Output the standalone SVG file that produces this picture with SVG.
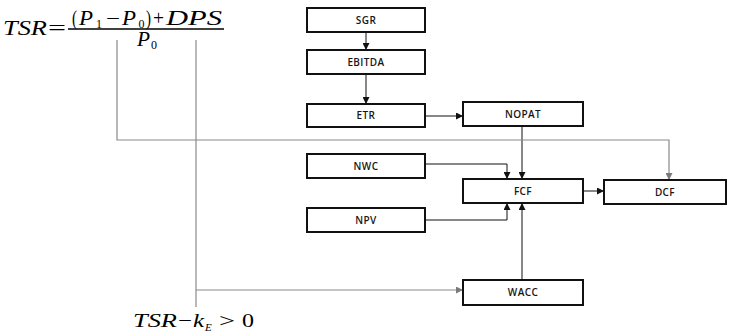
<svg xmlns="http://www.w3.org/2000/svg" width="729" height="335" viewBox="0 0 729 335">
  <style>
    .box { fill: #fff; stroke: #111; stroke-width: 2; }
    .lbl { font-family: "Open Sans", "Liberation Sans", sans-serif; font-size: 10px; font-weight: 600; letter-spacing: 0.4px; fill: #161616; text-anchor: middle; }
    .math { font-family: "Liberation Serif", "DejaVu Serif", serif; font-style: italic; fill: #000; }
    .rm { font-style: normal; }
    .wire { fill: none; stroke: #111; stroke-width: 1; }
    .grey { fill: none; stroke: #8a8a8a; stroke-width: 1.2; }
  </style>
  <defs>
    <marker id="ah" viewBox="0 0 10 10" refX="10" refY="5" markerWidth="7" markerHeight="7" markerUnits="userSpaceOnUse" orient="auto">
      <path d="M0,0 L10,5 L0,10 Z" fill="#111"/>
    </marker>
    <marker id="ahg" viewBox="0 0 10 10" refX="10" refY="5" markerWidth="7" markerHeight="7" markerUnits="userSpaceOnUse" orient="auto">
      <path d="M0,0 L10,5 L0,10 Z" fill="#7a7a7a"/>
    </marker>
  </defs>

  <rect width="729" height="335" fill="#fff"/>

  <!-- TSR = ((P1 - P0) + DPS) / P0, glyphs placed one by one -->
  <g id="tsr-formula" class="math" font-size="20">
    <text x="3" y="35" textLength="44" lengthAdjust="spacingAndGlyphs">TSR</text>
    <text class="rm" x="48" y="35" textLength="18" lengthAdjust="spacingAndGlyphs">=</text>
    <text class="rm" x="72" y="25" textLength="5" lengthAdjust="spacingAndGlyphs">(</text>
    <text x="79" y="25" textLength="14" lengthAdjust="spacingAndGlyphs">P</text>
    <text class="rm" x="96" y="28" font-size="12">1</text>
    <text class="rm" x="106" y="25" textLength="14" lengthAdjust="spacingAndGlyphs">−</text>
    <text x="122" y="25" textLength="14" lengthAdjust="spacingAndGlyphs">P</text>
    <text class="rm" x="138.5" y="28" font-size="12">0</text>
    <text class="rm" x="146" y="25" textLength="5" lengthAdjust="spacingAndGlyphs">)</text>
    <text class="rm" x="153" y="25" textLength="11" lengthAdjust="spacingAndGlyphs">+</text>
    <text x="166" y="25" textLength="56" lengthAdjust="spacingAndGlyphs">DPS</text>
    <line x1="68" y1="29" x2="224" y2="29" stroke="#000" stroke-width="1.3"/>
    <text x="137" y="46" textLength="13" lengthAdjust="spacingAndGlyphs">P</text>
    <text class="rm" x="151" y="49" font-size="12">0</text>
  </g>

  <!-- TSR - kE > 0 -->
  <g id="excess-formula" class="math" font-size="19">
    <text x="133" y="327" textLength="44" lengthAdjust="spacingAndGlyphs">TSR</text>
    <text class="rm" x="178" y="327" textLength="14" lengthAdjust="spacingAndGlyphs">−</text>
    <text x="193" y="327" textLength="11" lengthAdjust="spacingAndGlyphs">k</text>
    <text x="205" y="331" font-size="11">E</text>
    <text class="rm" x="219" y="327" textLength="16" lengthAdjust="spacingAndGlyphs">&gt;</text>
    <text class="rm" x="242" y="327" textLength="12" lengthAdjust="spacingAndGlyphs">0</text>
  </g>

  <!-- connectors -->
  <g id="connectors">
    <line class="wire" x1="366" y1="32" x2="366" y2="50" marker-end="url(#ah)"/>
    <line class="wire" x1="366" y1="74" x2="366" y2="104" marker-end="url(#ah)"/>
    <line class="wire" x1="425" y1="116" x2="463" y2="116" marker-end="url(#ah)"/>
    <line class="wire" x1="522" y1="126" x2="522" y2="179" marker-end="url(#ah)"/>
    <polyline class="wire" points="425,164 507,164 507,179" marker-end="url(#ah)"/>
    <polyline class="wire" points="425,220 507,220 507,203" marker-end="url(#ah)"/>
    <line class="wire" x1="522" y1="280" x2="522" y2="203" marker-end="url(#ah)"/>
    <line class="wire" x1="583" y1="191" x2="604" y2="191" marker-end="url(#ah)"/>
    <polyline class="grey" points="117,40 117,140 669,140 669,180" marker-end="url(#ahg)"/>
    <line class="grey" x1="196" y1="40" x2="196" y2="307"/>
    <line class="grey" x1="196" y1="290" x2="463" y2="290" marker-end="url(#ahg)"/>
  </g>

  <g id="sgr"><rect class="box" x="307" y="8" width="118" height="24"/><text class="lbl" x="366" y="23.5">SGR</text></g>
  <g id="ebitda"><rect class="box" x="307" y="50" width="118" height="24"/><text class="lbl" x="366" y="65.5">EBITDA</text></g>
  <g id="etr"><rect class="box" x="307" y="104" width="118" height="23"/><text class="lbl" x="366" y="119">ETR</text></g>
  <g id="nopat"><rect class="box" x="463" y="102" width="120" height="24"/><text class="lbl" x="523" y="117.5">NOPAT</text></g>
  <g id="nwc"><rect class="box" x="307" y="154" width="118" height="24"/><text class="lbl" x="366" y="169.5">NWC</text></g>
  <g id="fcf"><rect class="box" x="463" y="179" width="120" height="24"/><text class="lbl" x="523" y="194.5">FCF</text></g>
  <g id="dcf"><rect class="box" x="604" y="180" width="122" height="24"/><text class="lbl" x="665" y="195.5">DCF</text></g>
  <g id="npv"><rect class="box" x="307" y="208" width="118" height="24"/><text class="lbl" x="366" y="223.5">NPV</text></g>
  <g id="wacc"><rect class="box" x="463" y="280" width="120" height="25"/><text class="lbl" x="523" y="296">WACC</text></g>
</svg>
